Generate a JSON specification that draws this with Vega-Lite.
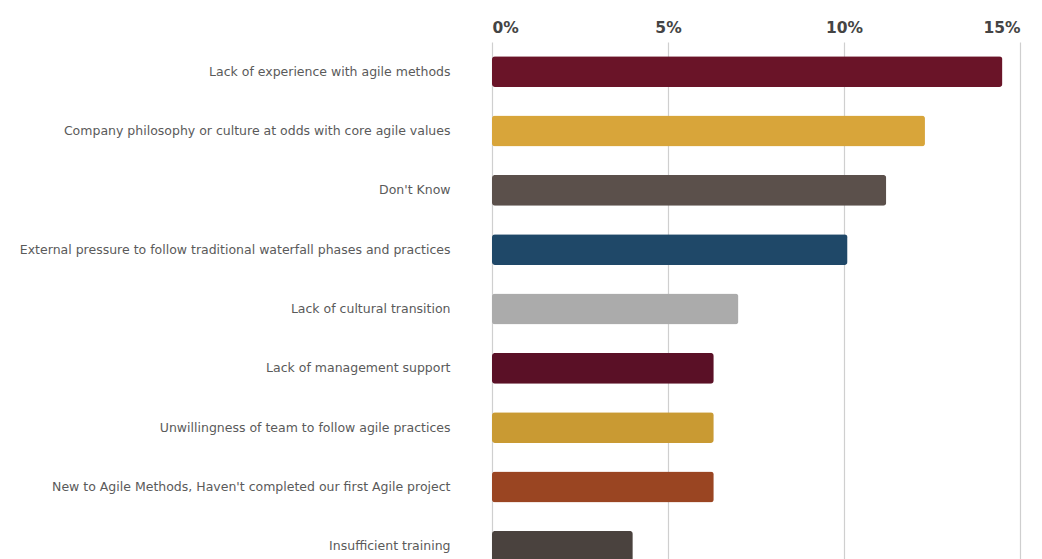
{
  "$schema": "https://vega.github.io/schema/vega-lite/v6.json",
  "width": 528,
  "height": 534,
  "autosize": {"type": "none"},
  "padding": {"left": 492, "top": 42, "right": 22, "bottom": 0},
  "background": "white",
  "config": {"view": {"stroke": null}, "font": "DejaVu Sans"},
  "data": {
    "values": [
      {"reason": "Lack of experience with agile methods", "pct": 14.5},
      {"reason": "Company philosophy or culture at odds with core agile values", "pct": 12.3},
      {"reason": "Don't Know", "pct": 11.2},
      {"reason": "External pressure to follow traditional waterfall phases and practices", "pct": 10.1},
      {"reason": "Lack of cultural transition", "pct": 7.0},
      {"reason": "Lack of management support", "pct": 6.3},
      {"reason": "Unwillingness of team to follow agile practices", "pct": 6.3},
      {"reason": "New to Agile Methods, Haven't completed our first Agile project", "pct": 6.3},
      {"reason": "Insufficient training", "pct": 4.0}
    ]
  },
  "mark": {"type": "bar", "cornerRadius": 3},
  "encoding": {
    "y": {
      "field": "reason",
      "type": "nominal",
      "sort": null,
      "scale": {"paddingInner": 0.48, "paddingOuter": 0.24},
      "axis": {
        "title": null,
        "domain": false,
        "ticks": false,
        "labelPadding": 42,
        "labelFontSize": 12.5,
        "labelColor": "#5a5a5a",
        "labelLimit": 490
      }
    },
    "x": {
      "field": "pct",
      "type": "quantitative",
      "scale": {"domain": [0, 15]},
      "axis": {
        "orient": "top",
        "title": null,
        "values": [0, 5, 10, 15],
        "labelExpr": "datum.value + '%'",
        "domain": false,
        "ticks": false,
        "labelPadding": 7,
        "labelFontSize": 15.5,
        "labelFontWeight": "bold",
        "labelColor": "#444444",
        "gridColor": "#cfcfcf",
        "gridWidth": 1.2
      }
    },
    "color": {
      "field": "reason",
      "type": "nominal",
      "legend": null,
      "scale": {
        "domain": [
          "Lack of experience with agile methods",
          "Company philosophy or culture at odds with core agile values",
          "Don't Know",
          "External pressure to follow traditional waterfall phases and practices",
          "Lack of cultural transition",
          "Lack of management support",
          "Unwillingness of team to follow agile practices",
          "New to Agile Methods, Haven't completed our first Agile project",
          "Insufficient training"
        ],
        "range": ["#6a1428", "#d8a53a", "#5b504b", "#1f4868", "#ababab", "#5a1026", "#c99a33", "#9a4522", "#4a423e"]
      }
    }
  }
}
